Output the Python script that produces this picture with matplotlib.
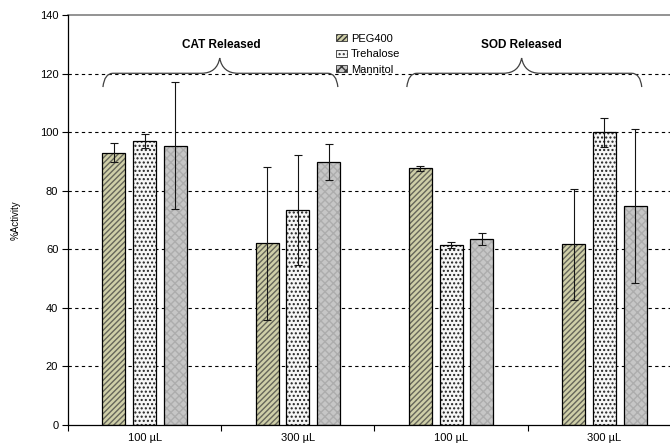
import numpy as np
import matplotlib.pyplot as plt
from matplotlib.path import Path
from matplotlib.patches import PathPatch, Patch

plt.rcParams['font.family'] = ['Liberation Sans', 'DejaVu Sans']

# %Activity recovered for each formulation, per release volume
groups = ["100 µL", "300 µL", "100 µL", "300 µL"]
series = ["PEG400", "Trehalose", "Mannitol"]
peg400 = [93.0, 62.0, 87.6, 61.7]
trehalose = [97.0, 73.3, 61.6, 99.9]
mannitol = [95.4, 89.8, 63.5, 74.8]
peg400_err = [3.2, 26.0, 0.7, 19.0]
trehalose_err = [2.5, 18.8, 1.0, 5.0]
mannitol_err = [21.7, 6.0, 2.0, 26.2]
brace_labels = ["CAT Released", "SOD Released"]

values = [peg400, trehalose, mannitol]
errors = [peg400_err, trehalose_err, mannitol_err]
faces = ["#cfcfa8", "#f6f6f6", "#c6c6c6"]
hatch_cols = ["#66665a", "#222222", "#adadad"]
hatches = ["//////", "....", "xxxx"]


def brace(ax, x0, x1, xc, y_end, y_mid, y_tip, w=0.065, t=0.12):
    """Curly brace opening downwards, drawn in data coordinates."""
    verts = [(x0, y_end), (x0 + w * 0.15, y_mid), (x0 + w, y_mid),
             (xc - t, y_mid),
             (xc - t * 0.15, y_mid), (xc, y_tip),
             (xc + t * 0.15, y_mid), (xc + t, y_mid),
             (x1 - w, y_mid),
             (x1 - w * 0.15, y_mid), (x1, y_end)]
    codes = [Path.MOVETO, Path.CURVE3, Path.CURVE3, Path.LINETO,
             Path.CURVE3, Path.CURVE3, Path.CURVE3, Path.CURVE3,
             Path.LINETO, Path.CURVE3, Path.CURVE3]
    ax.add_patch(PathPatch(Path(verts, codes), fill=False, ec="#404040",
                           lw=0.9, zorder=4))


fig = plt.figure(figsize=(6.7, 4.45), dpi=100)
ax = fig.add_axes([68 / 670, 20 / 445, 613 / 670, 410 / 445])

x = np.arange(len(groups))
step, width = 0.2, 0.15
for i in range(3):
    pos = x + (i - 1) * step
    ax.bar(pos, values[i], width, color=faces[i], hatch=hatches[i],
           edgecolor=hatch_cols[i], linewidth=0, zorder=2)
    ax.bar(pos, values[i], width, fill=False, edgecolor="black",
           linewidth=0.9, zorder=3)
    ax.errorbar(pos, values[i], yerr=errors[i], fmt="none", ecolor="#151515",
                elinewidth=0.8, capsize=3, capthick=0.8, zorder=5)

ax.set_xlim(-0.5, 3.5)
ax.set_ylim(0, 140)
ax.set_yticks(np.arange(0, 141, 20))
for yv in range(20, 140, 20):
    ax.axhline(yv, color="black", lw=0.8, ls=(0, (3, 3)), zorder=1)
ax.axhline(140, color="#808080", lw=1.2, zorder=1, clip_on=False)

ax.set_xticks(x)
ax.set_xticklabels(groups)
ax.set_xticks(np.arange(-0.5, 3.6, 1), minor=True)
ax.tick_params(axis="x", which="major", length=0, labelsize=8, pad=6)
ax.tick_params(axis="x", which="minor", length=4, width=0.8, direction="out")
ax.tick_params(axis="y", length=4, width=0.8, labelsize=8, pad=3)
for s in ("top", "right"):
    ax.spines[s].set_visible(False)
ax.spines["left"].set_linewidth(0.9)
ax.spines["bottom"].set_linewidth(0.9)
ax.set_ylabel("%Activity", fontsize=7, labelpad=14)

# braces grouping the two enzymes
brace(ax, -0.272, 1.261, 0.49, 115.4, 120.1, 125.3)
brace(ax, 1.711, 3.244, 2.46, 115.4, 120.1, 125.3)
ax.text(0.50, 129.7, brace_labels[0], ha="center", va="center",
        fontsize=8.5, fontweight="bold")
ax.text(2.46, 129.7, brace_labels[1], ha="center", va="center",
        fontsize=8.5, fontweight="bold")

handles = [Patch(facecolor=faces[i], hatch=hatches[i], edgecolor="#333333",
                 linewidth=0.6) for i in range(3)]
fig.legend(handles, series, loc="upper left",
           bbox_to_anchor=(330 / 670, 1 - 28 / 445), frameon=False,
           fontsize=8, handlelength=1.0, handleheight=0.6, handletextpad=0.4,
           labelspacing=0.5, borderpad=0)

fig.savefig("out.png", dpi=100)
